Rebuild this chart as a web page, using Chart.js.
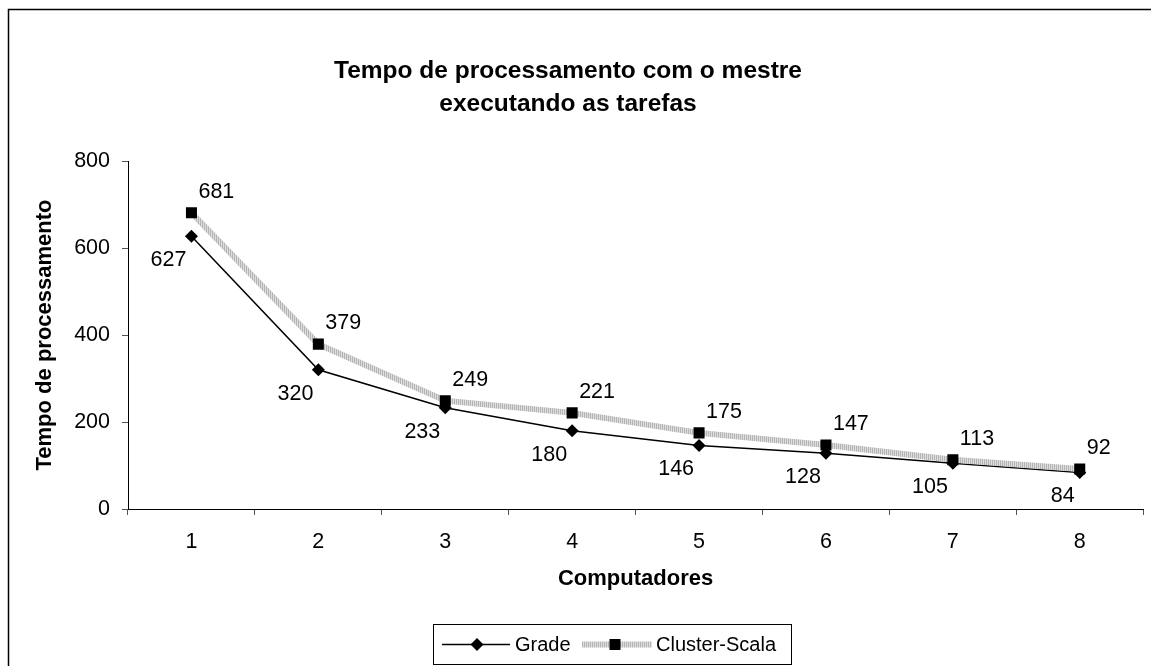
<!DOCTYPE html>
<html>
<head>
<meta charset="utf-8">
<script src="https://cdn.jsdelivr.net/npm/chart.js@4/dist/chart.umd.min.js"></script>
<style>
  html, body { margin: 0; padding: 0; background: #fff; }
  #wrap { width: 1151px; height: 666px; position: relative; }
</style>
</head>
<body>
<div id="wrap"><canvas id="c" width="1151" height="666"></canvas></div>
<script>
// ---- data ----
const categories = ['1', '2', '3', '4', '5', '6', '7', '8'];
const gradeValues = [627, 320, 233, 180, 146, 128, 105, 84];
const clusterValues = [681, 379, 249, 221, 175, 147, 113, 92];
const yTicks = [0, 200, 400, 600, 800];
const titleLines = ['Tempo de processamento com o mestre', 'executando as tarefas'];
const xTitle = 'Computadores';
const yTitle = 'Tempo de processamento';
const seriesNames = ['Grade', 'Cluster-Scala'];

const FONT = '"Liberation Sans", Arial, sans-serif';

// hatched light-gray pattern for the Cluster-Scala line
function makePattern() {
  const pc = document.createElement('canvas');
  pc.width = 2; pc.height = 2;
  const g = pc.getContext('2d');
  g.fillStyle = '#b4b4b4'; g.fillRect(0, 0, 1, 2);
  g.fillStyle = '#dedede'; g.fillRect(1, 0, 1, 2);
  return g.createPattern(pc, 'repeat');
}
const ctx0 = document.getElementById('c').getContext('2d');
const hatch = makePattern();

const decorPlugin = {
  id: 'decor',
  afterDatasetsDraw(chart) {
    const ctx = chart.ctx;
    ctx.save();
    ctx.font = '21.5px ' + FONT;
    ctx.fillStyle = '#000';
    ctx.textBaseline = 'middle';
    chart.data.datasets.forEach((ds, i) => {
      const meta = chart.getDatasetMeta(i);
      meta.data.forEach((pt, j) => {
        const v = ds.data[j];
        if (ds.label === 'Cluster-Scala') {
          ctx.textAlign = 'left';
          ctx.fillText(String(v), pt.x + 7, pt.y - 21);
        } else {
          ctx.textAlign = 'right';
          ctx.fillText(String(v), pt.x - 5, pt.y + 24);
        }
      });
    });
    ctx.restore();
  },
  afterDraw(chart) {
    const ctx = chart.ctx;
    ctx.save();
    // outer frame
    ctx.strokeStyle = '#000';
    ctx.lineWidth = 1.5;
    ctx.beginPath();
    ctx.moveTo(8.5, 670); ctx.lineTo(8.5, 9.5); ctx.lineTo(1160, 9.5);
    ctx.stroke();
    // title
    ctx.fillStyle = '#000';
    ctx.font = 'bold 24.5px ' + FONT;
    ctx.textAlign = 'center';
    ctx.textBaseline = 'middle';
    ctx.fillText(titleLines[0], 568, 71);
    ctx.fillText(titleLines[1], 568, 104);
    // legend box
    ctx.lineWidth = 1;
    ctx.strokeStyle = '#000';
    ctx.strokeRect(433.5, 624.5, 358, 40);
    const ly = 644.5;
    // Grade sample
    ctx.beginPath();
    ctx.lineWidth = 1.5;
    ctx.moveTo(442, ly); ctx.lineTo(510, ly);
    ctx.stroke();
    ctx.fillStyle = '#000';
    ctx.beginPath();
    ctx.moveTo(477 - 6.5, ly); ctx.lineTo(477, ly - 6.5); ctx.lineTo(477 + 6.5, ly); ctx.lineTo(477, ly + 6.5);
    ctx.closePath(); ctx.fill();
    // Cluster sample
    ctx.beginPath();
    ctx.lineWidth = 6;
    ctx.strokeStyle = hatch;
    ctx.moveTo(582, ly); ctx.lineTo(652, ly);
    ctx.stroke();
    ctx.fillStyle = '#000';
    ctx.fillRect(615 - 5.5, ly - 5.5, 11, 11);
    // legend text
    ctx.font = '20px ' + FONT;
    ctx.textAlign = 'left';
    ctx.fillText(seriesNames[0], 515, ly + 1);
    ctx.fillText(seriesNames[1], 656, ly + 1);
    ctx.restore();
  }
};

new Chart(ctx0, {
  type: 'line',
  data: {
    labels: categories,
    datasets: [
      {
        label: seriesNames[1],
        data: clusterValues,
        borderColor: hatch,
        borderWidth: 6,
        pointStyle: 'rect',
        pointRadius: 7.8,
        pointBackgroundColor: '#000',
        pointBorderColor: '#000',
        pointBorderWidth: 0,
        tension: 0,
        order: 0
      },
      {
        label: seriesNames[0],
        data: gradeValues,
        borderColor: '#000',
        borderWidth: 1.5,
        pointStyle: 'rectRot',
        pointRadius: 6.5,
        pointBackgroundColor: '#000',
        pointBorderColor: '#000',
        pointBorderWidth: 0,
        tension: 0,
        order: 1
      }
    ]
  },
  options: {
    responsive: false,
    animation: false,
    events: [],
    layout: { padding: { left: 0, top: 161, right: 7, bottom: 66 } },
    plugins: {
      legend: { display: false },
      title: { display: false },
      tooltip: { enabled: false }
    },
    scales: {
      x: {
        type: 'category',
        offset: true,
        grid: { offset: true, drawOnChartArea: false, drawTicks: true, tickLength: 6, color: '#555' },
        border: { display: true, color: '#000', width: 1 },
        ticks: { color: '#000', font: { family: FONT, size: 21.5 }, padding: 14, maxRotation: 0 },
        title: { display: true, text: xTitle, color: '#000', font: { family: FONT, size: 22, weight: 'bold' }, padding: { top: 0, bottom: 8 } },
        afterFit(scale) { scale.height = 91; }
      },
      y: {
        min: 0, max: 800,
        afterBuildTicks(scale) { scale.ticks = yTicks.map(v => ({ value: v })); },
        grid: { drawOnChartArea: false, drawTicks: true, tickLength: 6, color: '#555' },
        border: { display: true, color: '#000', width: 1 },
        ticks: { color: '#000', font: { family: FONT, size: 21.5 }, padding: 12 },
        title: { display: true, text: yTitle, color: '#000', font: { family: FONT, size: 22, weight: 'bold' }, padding: { top: 32, bottom: 0 } },
        afterFit(scale) { scale.width = 128; }
      }
    }
  },
  plugins: [decorPlugin]
});
</script>
</body>
</html>
